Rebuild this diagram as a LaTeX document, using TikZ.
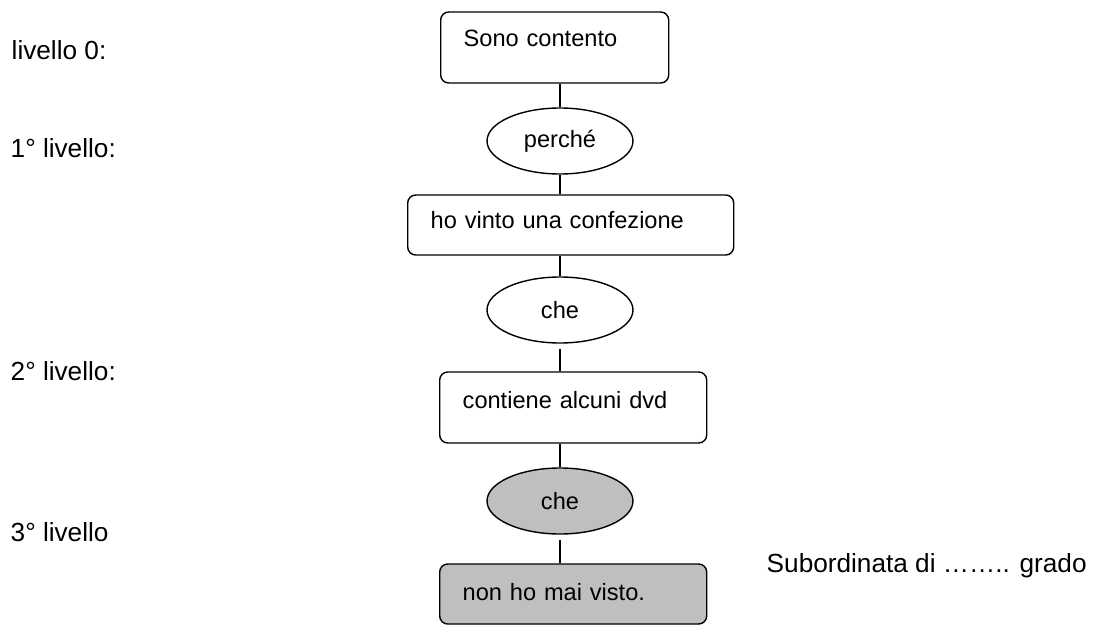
\documentclass[tikz,border=0pt]{standalone}
\usepackage{fontspec}
\setmainfont{Liberation Sans}
\usetikzlibrary{shapes.geometric}
\definecolor{grigio}{gray}{0.75}

\begin{document}
\begin{tikzpicture}[x=0.5pt, y=-0.5pt, line width=0.7pt,
		every node/.style={font=\fontsize{11.8}{14}\selectfont},
		frase/.style={draw, rounded corners=4pt, align=left, inner xsep=11.5pt, inner ysep=0pt, anchor=base west},
		nesso/.style={draw, ellipse, minimum width=73pt, minimum height=33pt, inner sep=0pt},
		livello/.style={anchor=base west, inner sep=0pt, font=\fontsize{13.1}{15}\selectfont}]
		\useasboundingbox (0,0) rectangle (1093,626);
		
		% frasi e nessi
		\node[frase, text width=91pt, text height=17.5pt, text depth=18pt] (s0) at (440,47) {Sono contento};
		\node[nesso] (perche) at (560,141) {perché};
		\node[frase, text width=140pt, text height=16.5pt, text depth=13.5pt] (s1) at (407,228) {ho vinto una confezione};
		\node[nesso] (che1) at (560,310) {che};
		\node[frase, text width=110.5pt, text height=18pt, text depth=17.5pt] (s2) at (439,408) {contiene alcuni dvd};
		\node[nesso, fill=grigio] (che2) at (560,501) {che};
		\node[frase, fill=grigio, text width=110.5pt, text height=18pt, text depth=12pt] (s3) at (439,600) {non ho mai visto.};
		
		\draw (perche.north) -- (perche.north |- s0.south);
		\draw (perche.south) -- (perche.south |- s1.north);
		\draw (che1.north) -- (che1.north |- s1.south);
		\draw[shorten <=2.5pt] (che1.south) -- (che1.south |- s2.north);
		\draw (che2.north) -- (che2.north |- s2.south);
		\draw[shorten <=2.5pt] (che2.south) -- (che2.south |- s3.north);
		
		% livelli
		\node[livello] (l0) at (11,60) {livello 0:};
		\node[livello] (l1) at (10,157) {1° livello:};
		\node[livello] (l2) at (10,380) {2° livello:};
		\node[livello] (l3) at (10,541) {3° livello};
		\node[livello] (grado) at (766,572) {Subordinata di …….. grado};
	\end{tikzpicture}
\end{document}
